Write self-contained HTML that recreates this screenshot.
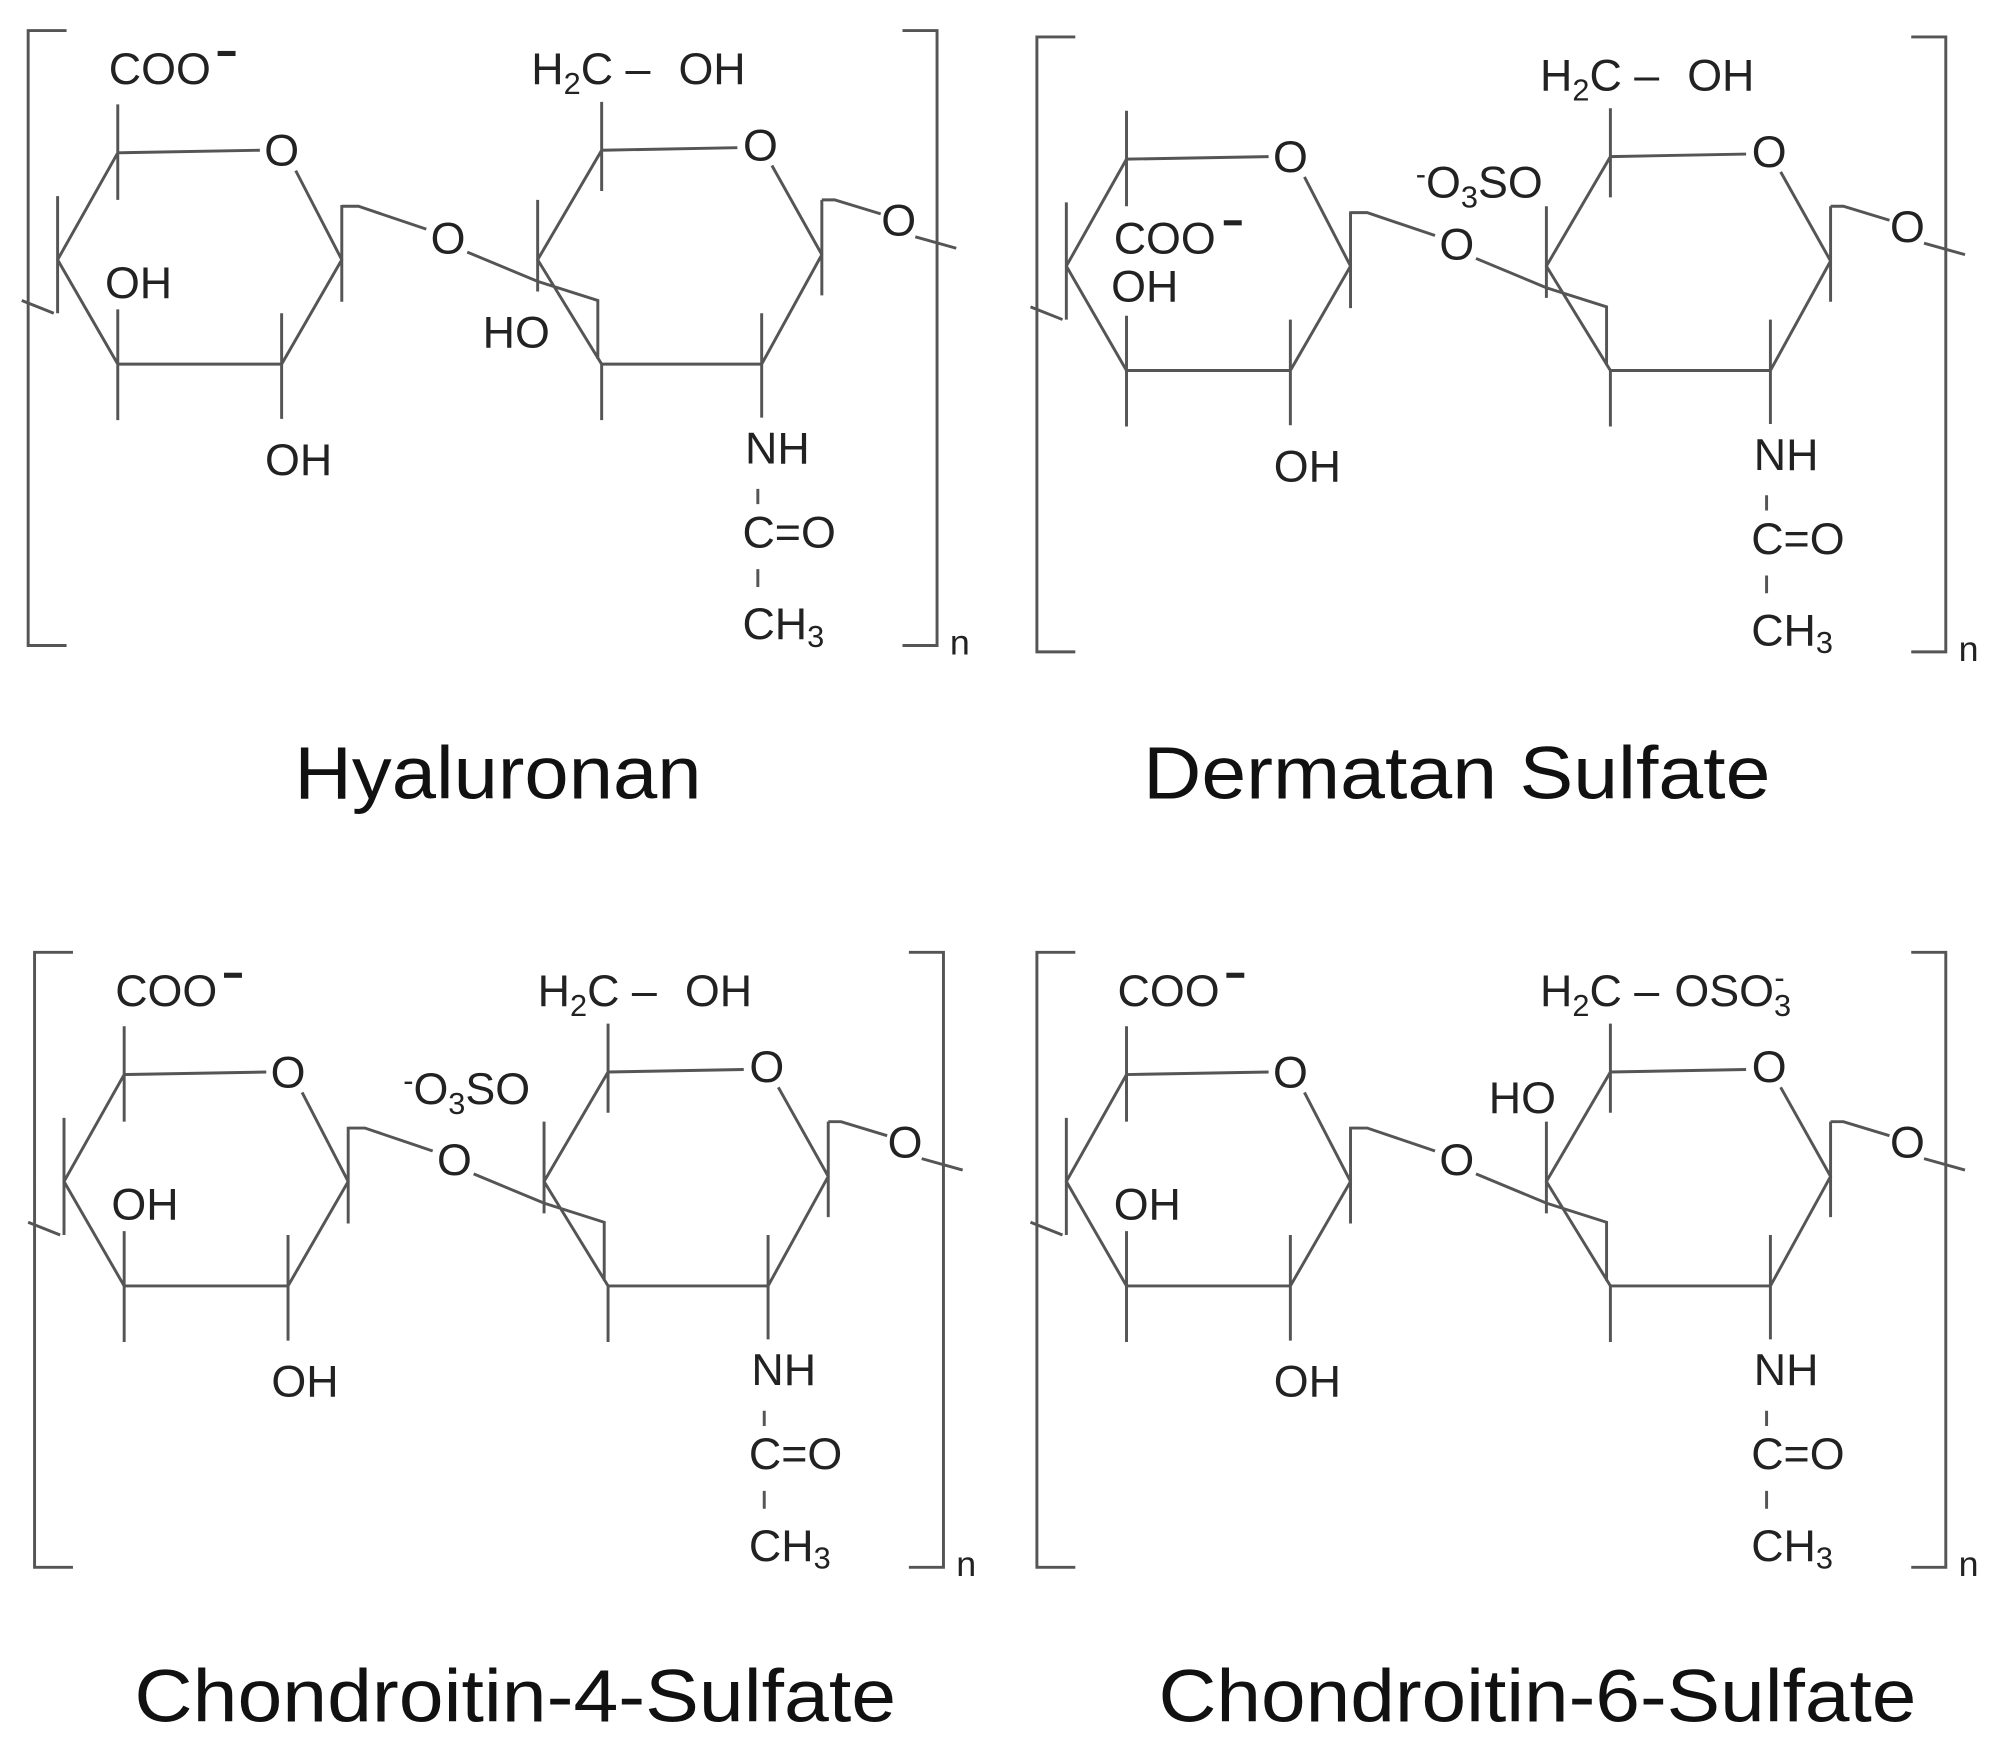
<!DOCTYPE html>
<html><head><meta charset="utf-8"><style>
html,body{margin:0;padding:0;background:#fff}
svg{display:block}
text{font-family:"Liberation Sans",sans-serif;fill:#222}
.l{fill:none;stroke:#555;stroke-width:2.3}
.t{font-size:35px}
.o{font-size:35px;text-anchor:middle}
.s{font-size:24px}
.ti{font-size:58px;fill:#111}
</style></head><body>
<svg width="1997" height="1757" viewBox="0 0 1560 1380" preserveAspectRatio="none" xmlns="http://www.w3.org/2000/svg">
<defs>
<g id="base">
<path class="l" d="M92,120 L203,118 M231,134 L267,204 L220,286 L92,286 L45,204 L92,120
M92,82 V157 M45,154 V246 M92,243 V330 M220,246 V329 M267,161 V237
M17,236 L42,246
M267,162 L280,162 L333,180 M365,198 L420,221 L467,236 V282
M470,118 L576,116 M603,130 L642,200 L595,286 L470,286 L420,204 L470,118
M470,80 V150 M420,157 V229 M470,286 V330 M595,246 V328 M642,157 V232
M642,157 L652,157 L688,168 M715,186 L747,195
M52,24 H22 V507 H52 M705,24 H732 V507 H705
M592,384 V396 M592,447 V461"/>
<text class="o" x="220" y="130">O</text>
<text class="o" x="350" y="199">O</text>
<text class="o" x="594" y="126">O</text>
<text class="o" x="702" y="185">O</text>
<text class="t" x="415" y="66">H<tspan class="s" dy="8">2</tspan><tspan dy="-8">C – </tspan></text>
<text class="t" x="582" y="364">NH</text>
<text class="t" x="580" y="430">C=O</text>
<text class="t" x="580" y="502">CH<tspan class="s" dy="6">3</tspan></text>
<text class="t" x="207" y="373">OH</text>
<text style="font-size:28px" x="742" y="514">n</text>
</g>
</defs>

<!-- Hyaluronan -->
<g>
<use href="#base"/>
<text class="t" x="85" y="66">COO</text><rect x="170" y="40" width="14" height="4" fill="#222"/>
<text class="t" x="82" y="234">OH</text>
<text class="t" x="377" y="273">HO</text>
<text class="t" x="530" y="66">OH</text>
</g>

<!-- Dermatan -->
<g transform="translate(788,5)">
<use href="#base"/>
<text class="t" x="82" y="194">COO</text><rect x="168" y="168" width="14" height="4" fill="#222"/>
<text class="t" x="80" y="232">OH</text>
<text class="t" x="318" y="150"><tspan class="s" dy="-10">-</tspan><tspan dy="10">O</tspan><tspan class="s" dy="8">3</tspan><tspan dy="-8">SO</tspan></text>
<text class="t" x="530" y="66">OH</text>
</g>

<!-- Chondroitin-4 -->
<g transform="translate(5,724)">
<use href="#base"/>
<text class="t" x="85" y="66">COO</text><rect x="170" y="40" width="14" height="4" fill="#222"/>
<text class="t" x="82" y="234">OH</text>
<text class="t" x="310" y="143"><tspan class="s" dy="-10">-</tspan><tspan dy="10">O</tspan><tspan class="s" dy="8">3</tspan><tspan dy="-8">SO</tspan></text>
<text class="t" x="530" y="66">OH</text>
</g>

<!-- Chondroitin-6 -->
<g transform="translate(788,724)">
<use href="#base"/>
<text class="t" x="85" y="66">COO</text><rect x="170" y="40" width="14" height="4" fill="#222"/>
<text class="t" x="82" y="234">OH</text>
<text class="t" x="375" y="150">HO</text>
<text class="t" x="520" y="66">OSO<tspan class="s" dy="8">3</tspan><tspan class="s" dx="-13" dy="-22">-</tspan></text>
</g>

<text class="ti" x="230" y="627" textLength="318" lengthAdjust="spacingAndGlyphs">Hyaluronan</text>
<text class="ti" x="893" y="627" textLength="490" lengthAdjust="spacingAndGlyphs">Dermatan Sulfate</text>
<text class="ti" x="105" y="1352" textLength="595" lengthAdjust="spacingAndGlyphs">Chondroitin-4-Sulfate</text>
<text class="ti" x="905" y="1352" textLength="592" lengthAdjust="spacingAndGlyphs">Chondroitin-6-Sulfate</text>
</svg>
</body></html>
